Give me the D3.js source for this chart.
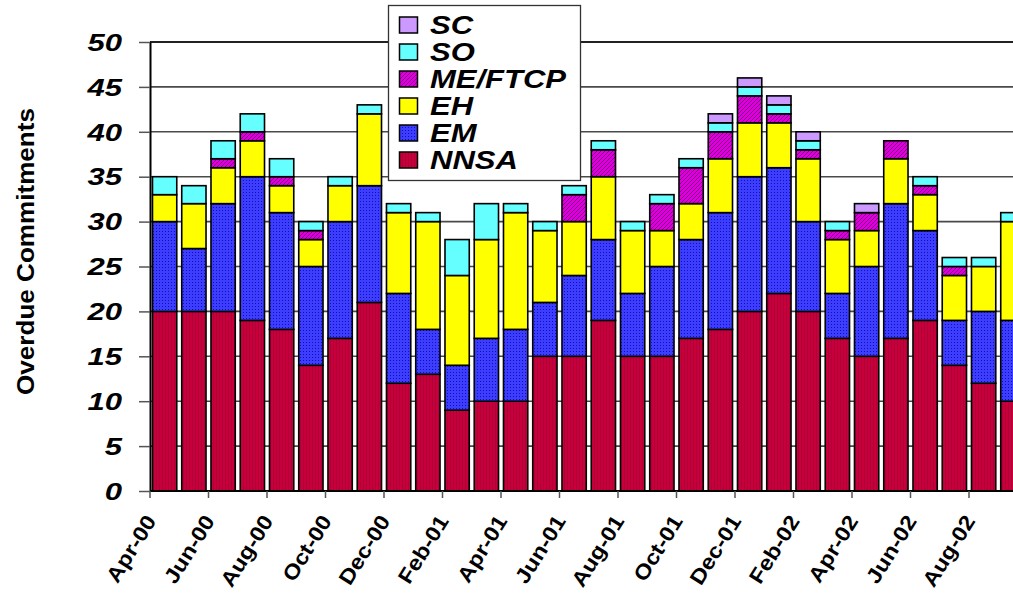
<!DOCTYPE html>
<html><head><meta charset="utf-8">
<script src="https://cdn.jsdelivr.net/npm/d3@7"></script>
<style>html,body{margin:0;padding:0;background:#fff;overflow:hidden}</style>
</head><body><svg id="c" width="1013" height="595"></svg>
<script>
// ---- data ----
const months = ["Apr-00","May-00","Jun-00","Jul-00","Aug-00","Sep-00","Oct-00","Nov-00","Dec-00","Jan-01",
  "Feb-01","Mar-01","Apr-01","May-01","Jun-01","Jul-01","Aug-01","Sep-01","Oct-01","Nov-01",
  "Dec-01","Jan-02","Feb-02","Mar-02","Apr-02","May-02","Jun-02","Jul-02","Aug-02","Sep-02"];
const NNSA    = [20,20,20,19,18,14,17,21,12,13, 9,10,10,15,15,19,15,15,17,18,20,22,20,17,15,17,19,14,12,10];
const EM      = [10, 7,12,16,13,11,13,13,10, 5, 5, 7, 8, 6, 9, 9, 7,10,11,13,15,14,10, 5,10,15,10, 5, 8, 9];
const EH      = [ 3, 5, 4, 4, 3, 3, 4, 8, 9,12,10,11,13, 8, 6, 7, 7, 4, 4, 6, 6, 5, 7, 6, 4, 5, 4, 5, 5,11];
const ME_FTCP = [ 0, 0, 1, 1, 1, 1, 0, 0, 0, 0, 0, 0, 0, 0, 3, 3, 0, 3, 4, 3, 3, 1, 1, 1, 2, 2, 1, 1, 0, 0];
const SO      = [ 2, 2, 2, 2, 2, 1, 1, 1, 1, 1, 4, 4, 1, 1, 1, 1, 1, 1, 1, 1, 1, 1, 1, 1, 0, 0, 1, 1, 1, 1];
const SC      = [ 0, 0, 0, 0, 0, 0, 0, 0, 0, 0, 0, 0, 0, 0, 0, 0, 0, 0, 0, 1, 1, 1, 1, 0, 1, 0, 0, 0, 0, 0];
const seriesNames = ["NNSA","EM","EH","ME/FTCP","SO","SC"];
const legendOrder = ["SC","SO","ME/FTCP","EH","EM","NNSA"];
const yTickValues = [0,5,10,15,20,25,30,35,40,45,50];
const yTitle = "Overdue Commitments";

// ---- setup ----
const W = 1013, H = 595;
const svg = d3.select("#c");
const x0 = 150, step = 29.25;
const x = d3.scaleBand().domain(months).range([x0, x0 + step * months.length])
  .paddingInner(0.17).paddingOuter(0.085);
const y = d3.scaleLinear().domain([0, 50]).range([491, 42]);

const seriesData = {"NNSA":NNSA,"EM":EM,"EH":EH,"ME/FTCP":ME_FTCP,"SO":SO,"SC":SC};
const rows = months.map((m,i) => { const r = {month:m}; seriesNames.forEach(k => r[k] = seriesData[k][i]); return r; });
const stacked = d3.stack().keys(seriesNames)(rows);

// patterns
const defs = svg.append("defs");
const pid = k => "pat-" + k.replace(/[^A-Za-z]/g,"");
function pat(key, size, base, draw){
  const p = defs.append("pattern").attr("id", pid(key)).attr("patternUnits","userSpaceOnUse")
    .attr("width", size).attr("height", size);
  p.append("rect").attr("width", size).attr("height", size).attr("fill", base);
  if (draw) draw(p);
}
pat("NNSA", 3, "#c8003a", p => p.append("rect").attr("x",0).attr("y",0).attr("width",1).attr("height",3).attr("fill","#b0003c"));
pat("EM", 3, "#3d3dff", p => p.append("rect").attr("x",0).attr("y",0).attr("width",1).attr("height",1).attr("fill","#1010b0"));
pat("EH", 4, "#ffff00");
pat("ME/FTCP", 4, "#dd00dd", p => p.append("path").attr("d","M0,4 L4,0 M-1,1 L1,-1 M3,5 L5,3").attr("stroke","#8a008a").attr("stroke-width",1));
pat("SO", 4, "#66ffff");
pat("SC", 4, "#cc99ff");

function stretch(sel, f){
  sel.each(function(){
    const L = this.getComputedTextLength();
    d3.select(this).attr("textLength", L * f).attr("lengthAdjust", "spacingAndGlyphs");
  });
}

// gridlines
svg.append("g").selectAll("line").data(yTickValues.filter(v => v > 0)).join("line")
  .attr("x1", x0).attr("x2", W).attr("y1", d => y(d)).attr("y2", d => y(d))
  .attr("stroke", d => d === 50 ? "#222" : "#4a4a4a").attr("stroke-width", d => d === 50 ? 2 : 1.6);

// bars
const gBars = svg.append("g");
stacked.forEach(layer => {
  gBars.append("g").selectAll("rect")
    .data(layer.filter(d => d[1] - d[0] > 0)).join("rect")
    .attr("x", d => x(d.data.month)).attr("width", x.bandwidth())
    .attr("y", d => y(d[1])).attr("height", d => y(d[0]) - y(d[1]))
    .attr("fill", `url(#${pid(layer.key)})`)
    .attr("stroke", "#000").attr("stroke-width", 1.6);
});

// y axis
const yAxis = svg.append("g").attr("transform", `translate(${x0},0)`)
  .call(d3.axisLeft(y).tickValues(yTickValues).tickSize(11).tickSizeOuter(0).tickFormat(d3.format("d")));
yAxis.select(".domain").attr("stroke", "#000").attr("stroke-width", 2);
yAxis.selectAll(".tick line").attr("stroke", "#555").attr("stroke-width", 1.5);
yAxis.selectAll(".tick text").attr("x", -28).attr("dy", "0.36em")
  .attr("font-family", "Liberation Sans, Arial, sans-serif").attr("font-size", 23)
  .attr("font-weight", "bold").attr("font-style", "italic").attr("fill", "#000");
stretch(yAxis.selectAll(".tick text"), 1.35);

// x axis
const gx = svg.append("g");
gx.append("line").attr("x1", x0).attr("x2", W).attr("y1", 491).attr("y2", 491)
  .attr("stroke", "#000").attr("stroke-width", 2);
const boundary = m => x(m) - x.step() * x.paddingInner() / 2;
const labelMonths = months.filter((m,i) => i % 2 === 0);
gx.selectAll("line.tk").data(labelMonths).join("line").attr("class","tk")
  .attr("x1", d => boundary(d)).attr("x2", d => boundary(d)).attr("y1", 491).attr("y2", 498)
  .attr("stroke", "#555").attr("stroke-width", 1.5);
const xl = gx.selectAll("text").data(labelMonths).join("text")
  .attr("transform", d => `translate(${boundary(d) + 7},521) rotate(-58)`)
  .attr("text-anchor", "end")
  .attr("font-family", "Liberation Sans, Arial, sans-serif").attr("font-size", 21)
  .attr("font-weight", "bold").attr("fill", "#000").text(d => d);
stretch(xl, 1.12);

// y title
const yt = svg.append("text").attr("transform", "translate(34,251.5) rotate(-90)")
  .attr("text-anchor", "middle")
  .attr("font-family", "Liberation Sans, Arial, sans-serif").attr("font-size", 24)
  .attr("font-weight", "bold").attr("fill", "#000").text(yTitle);
yt.attr("textLength", 287).attr("lengthAdjust", "spacingAndGlyphs");

// legend
const lg = svg.append("g");
lg.append("rect").attr("x", 388.5).attr("y", 5.5).attr("width", 192).attr("height", 175)
  .attr("fill", "#fff").attr("stroke", "#333").attr("stroke-width", 1.3);
const li = lg.selectAll("g.it").data(legendOrder).join("g").attr("class","it")
  .attr("transform", (d,i) => `translate(0,${25 + i * 27})`);
li.append("rect").attr("x", 399.5).attr("y", -8).attr("width", 18).attr("height", 16)
  .attr("fill", d => `url(#${pid(d)})`).attr("stroke", "#000").attr("stroke-width", 1.5);
const lt = li.append("text").attr("x", 430).attr("y", 9)
  .attr("font-family", "Liberation Sans, Arial, sans-serif").attr("font-size", 25)
  .attr("font-weight", "bold").attr("font-style", "italic").attr("fill", "#000").text(d => d);
stretch(lt, 1.24);
</script></body></html>
